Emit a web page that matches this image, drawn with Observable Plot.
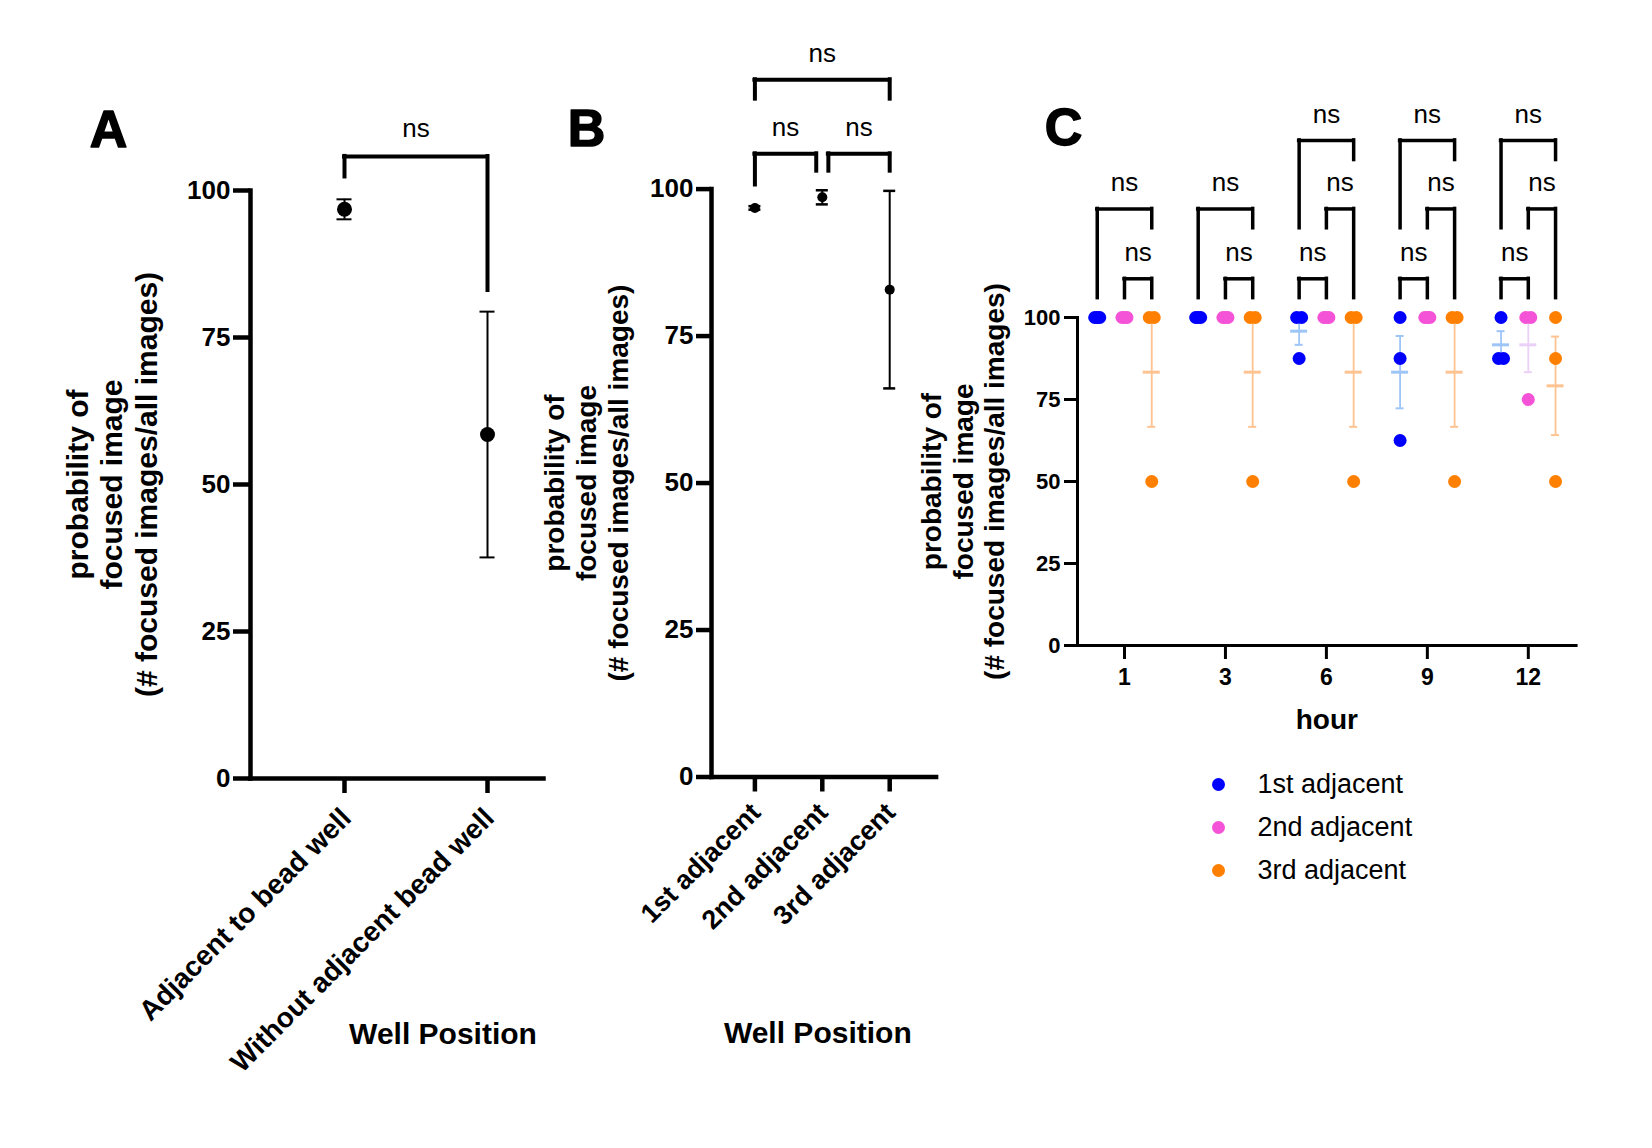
<!DOCTYPE html>
<html><head><meta charset="utf-8">
<script src="https://cdn.jsdelivr.net/npm/d3@7"></script>
<script src="https://cdn.jsdelivr.net/npm/@observablehq/plot@0.6"></script>
<style>
html,body{margin:0;padding:0;background:#fff;}
#root{position:relative;width:1652px;height:1148px;background:#fff;overflow:hidden;}
#root svg{position:absolute;left:0;top:0;max-width:none;}
</style></head><body><div id="root"></div>
<script>
const FONT = '"Liberation Sans", Arial, Helvetica, sans-serif';
const W = 1652, H = 1148;

// ---------- shared ----------
const yTicks = [0, 25, 50, 75, 100];
const yTitle = "probability of\nfocused image\n(# focused images/all images)";
const xTitle = "Well Position";
const sigLabel = "ns";

// ---------- Panel A ----------
const catsA = ["Adjacent to bead well", "Without adjacent bead well"];
const meanA = [96.8, 58.5];
const semA = [1.7, 20.9];
// bracket: from category index a to b, horizontal level, leg bottoms (data units)
const bracketsA = [{a: 0, b: 1, level: 105.8, endA: 102.3, endB: 83.0}];

// ---------- Panel B ----------
const catsB = ["1st adjacent", "2nd adjacent", "3rd adjacent"];
const meanB = [96.8, 98.6, 82.9];
const semB = [0.3, 1.2, 16.8];
const bracketsB = [
  {a: 0, b: 0.91, level: 106.0, endA: 100.7, endB: 103.05},
  {a: 1.09, b: 2, level: 106.0, endA: 103.05, endB: 103.05},
  {a: 0, b: 2, level: 118.6, endA: 115.3, endB: 115.3}
];

// ---------- Panel C ----------
const hours = [1, 3, 6, 9, 12];
const seriesC = ["1st adjacent", "2nd adjacent", "3rd adjacent"];
const colorsC = ["#0000ff", "#f553d7", "#ff8000"];
const barColorsC = ["#9ec5f8", "#ebd0f7", "#ffc391"];
// replicate values per hour (index matches hours)
const adj1 = [[100, 100, 100], [100, 100, 100], [100, 100, 87.5], [100, 87.5, 62.5], [100, 87.5, 87.5]];
const adj2 = [[100, 100, 100], [100, 100, 100], [100, 100, 100], [100, 100, 100], [100, 100, 75]];
const adj3 = [[100, 100, 50], [100, 100, 50], [100, 100, 50], [100, 100, 50], [100, 87.5, 50]];
const dataC = [adj1, adj2, adj3];
const seriesOffset = [-0.27, 0, 0.27];
// significance brackets per hour: s1/s2 series indexes, level and leg bottoms
const bracketsShort = [
  {s1: 0, s2: 2, level: 133.1, end1: 105.9, end2: 127.2},
  {s1: 1, s2: 2, level: 111.8, end1: 105.9, end2: 105.9}
];
const bracketsLong = [
  {s1: 0, s2: 1, level: 111.8, end1: 105.9, end2: 105.9},
  {s1: 1, s2: 2, level: 133.1, end1: 127.2, end2: 105.9},
  {s1: 0, s2: 2, level: 154.0, end1: 127.2, end2: 148.0}
];
const bracketSets = [bracketsShort, bracketsShort, bracketsLong, bracketsLong, bracketsLong];

const root = document.getElementById("root");
const baseStyle = {fontFamily: FONT, background: "transparent", overflow: "visible", color: "black"};

function catPanel(cats, means, sems, brackets, o) {
  const table = cats.map((c, i) => ({i, cat: c, mean: means[i], lo: means[i] - sems[i], hi: means[i] + sems[i]}));
  const br = brackets.map(d => ({...d, mid: (d.a + d.b) / 2}));
  return Plot.plot({
    width: W, height: H,
    marginLeft: o.left, marginRight: W - o.right, marginTop: o.top, marginBottom: H - o.bottom,
    x: {domain: [0, cats.length - 1], range: o.xRange},
    y: {domain: [0, 100]},
    style: baseStyle,
    marks: [
      Plot.frame({anchor: "left", strokeWidth: 4.5}),
      Plot.frame({anchor: "bottom", strokeWidth: 4.5}),
      Plot.axisY({ticks: yTicks, tickSize: o.yTick, tickPadding: 3, fontSize: 26, fontWeight: "bold", strokeWidth: 4.5, label: null}),
      Plot.axisX({ticks: d3.range(cats.length), tickFormat: () => "", tickSize: 15, strokeWidth: 4.5, label: null}),
      Plot.text(table, {x: "i", text: "cat", frameAnchor: "bottom", rotate: -45, textAnchor: "end", lineAnchor: "middle",
        dx: o.labDx, dy: o.labDy, fontSize: o.labSize, fontWeight: "bold"}),
      // error bars
      Plot.ruleX(table, {x: "i", y1: "lo", y2: "hi", strokeWidth: 2}),
      Plot.ruleY(table, {x1: "i", x2: "i", y: "lo", insetLeft: -o.cap, insetRight: -o.cap, strokeWidth: o.capW}),
      Plot.ruleY(table, {x1: "i", x2: "i", y: "hi", insetLeft: -o.cap, insetRight: -o.cap, strokeWidth: o.capW}),
      Plot.dot(table, {x: "i", y: "mean", r: o.r, fill: "black"}),
      // brackets
      Plot.ruleY(br, {x1: "a", x2: "b", y: "level", strokeWidth: 4, strokeLinecap: "square"}),
      Plot.ruleX(br, {x: "a", y1: "endA", y2: "level", strokeWidth: 4, strokeLinecap: "square"}),
      Plot.ruleX(br, {x: "b", y1: "endB", y2: "level", strokeWidth: 4, strokeLinecap: "square"}),
      Plot.text(br, {x: "mid", y: "level", text: () => sigLabel, dy: o.nsDy, fontSize: 26, lineAnchor: "middle"}),
      // titles
      Plot.text([yTitle], {frameAnchor: "left", dx: o.titleDx, rotate: -90, fontSize: o.titleSize, fontWeight: "bold",
        lineHeight: 1.14, textAnchor: "middle", lineAnchor: "middle"}),
      Plot.text([xTitle], {frameAnchor: "bottom", dx: o.xtDx, dy: 256, fontSize: 30, fontWeight: "bold", lineAnchor: "middle"}),
      Plot.text([o.letter], {frameAnchor: "top-left", dx: o.letDx, dy: o.letDy, fontSize: 52, fontWeight: 900,
        textAnchor: "middle", lineAnchor: "middle", fill: "black", stroke: "black", strokeWidth: 1.5})
    ]
  });
}

root.appendChild(catPanel(catsA, meanA, semA, bracketsA, {
  left: 250, right: 543, top: 190, bottom: 778, xRange: [344, 487], yTick: 17,
  labDx: 2, labDy: 35, labSize: 28, cap: 7.5, capW: 2, r: 7.5, titleDx: -139, titleSize: 30, nsDy: -28,
  xtDx: 46, letter: "A", letDx: -142, letDy: -60
}));

root.appendChild(catPanel(catsB, meanB, semB, bracketsB, {
  left: 711, right: 935.6, top: 188.6, bottom: 776.5, xRange: [754.4, 889.2], yTick: 15,
  labDx: 1, labDy: 31, labSize: 27, cap: 6, capW: 2.5, r: 5, titleDx: -126, titleSize: 28, nsDy: -26,
  xtDx: -6, letter: "B", letDx: -125, letDy: -60
}));

// ---------- Panel C ----------
const pxPerUnit = 100.95, spreadPx = 5;
const rowsC = [], statsC = [];
hours.forEach((h, hi) => seriesC.forEach((s, si) => {
  const vals = dataC[si][hi];
  const counts = d3.rollup(vals, v => v.length, v => v);
  const seen = new Map();
  vals.forEach(v => {
    const k = counts.get(v), j = seen.get(v) || 0;
    seen.set(v, j + 1);
    const off = k > 1 ? (j / (k - 1) - 0.5) * spreadPx / pxPerUnit : 0;
    rowsC.push({si, value: v, x: hi + seriesOffset[si] + off});
  });
  const m = d3.mean(vals), se = d3.deviation(vals) / Math.sqrt(vals.length);
  statsC.push({si, x: hi + seriesOffset[si], mean: m, lo: m - se, hi: m + se});
}));
const brC = [];
bracketSets.forEach((set, hi) => set.forEach(b => {
  const xa = hi + seriesOffset[b.s1], xb = hi + seriesOffset[b.s2];
  brC.push({xa, xb, mid: (xa + xb) / 2, level: b.level, end1: b.end1, end2: b.end2});
}));

const cMarks = [
  Plot.frame({anchor: "left", strokeWidth: 3}),
  Plot.frame({anchor: "bottom", strokeWidth: 3}),
  Plot.axisY({ticks: yTicks, tickSize: 13, tickPadding: 4, fontSize: 22, fontWeight: "bold", strokeWidth: 3, label: null}),
  Plot.axisX({ticks: d3.range(hours.length), tickFormat: i => String(hours[i]), tickSize: 14, tickPadding: 9,
    fontSize: 23, fontWeight: "bold", strokeWidth: 3, label: null}),
  Plot.text(["hour"], {frameAnchor: "bottom", dy: 75, fontSize: 28, fontWeight: "bold", lineAnchor: "middle"})
];
seriesC.forEach((s, si) => {
  const st = statsC.filter(d => d.si === si);
  const col = barColorsC[si];
  cMarks.push(
    Plot.ruleX(st, {x: "x", y1: "lo", y2: "hi", stroke: col, strokeWidth: 1.8}),
    Plot.ruleY(st, {x1: "x", x2: "x", y: "lo", insetLeft: -4, insetRight: -4, stroke: col, strokeWidth: 2}),
    Plot.ruleY(st, {x1: "x", x2: "x", y: "hi", insetLeft: -4, insetRight: -4, stroke: col, strokeWidth: 2}),
    Plot.ruleY(st, {x1: "x", x2: "x", y: "mean", insetLeft: -8.5, insetRight: -8.5, stroke: col, strokeWidth: 3})
  );
});
seriesC.forEach((s, si) => {
  cMarks.push(Plot.dot(rowsC.filter(d => d.si === si), {x: "x", y: "value", r: 6.5, fill: colorsC[si]}));
});
cMarks.push(
  Plot.ruleY(brC, {x1: "xa", x2: "xb", y: "level", strokeWidth: 3.5, strokeLinecap: "square"}),
  Plot.ruleX(brC, {x: "xa", y1: "end1", y2: "level", strokeWidth: 3.5, strokeLinecap: "square"}),
  Plot.ruleX(brC, {x: "xb", y1: "end2", y2: "level", strokeWidth: 3.5, strokeLinecap: "square"}),
  Plot.text(brC, {x: "mid", y: "level", text: () => sigLabel, dy: -26, fontSize: 26, lineAnchor: "middle"}),
  Plot.text([yTitle], {frameAnchor: "left", dx: -115, rotate: -90, fontSize: 28, fontWeight: "bold",
    lineHeight: 1.13, textAnchor: "middle", lineAnchor: "middle"}),
  Plot.text(["C"], {frameAnchor: "top-left", dx: -14, dy: -189, fontSize: 52, fontWeight: 900,
    textAnchor: "middle", lineAnchor: "middle", fill: "black", stroke: "black", strokeWidth: 1.5})
);

root.appendChild(Plot.plot({
  width: W, height: H,
  marginLeft: 1077, marginRight: W - 1575.6, marginTop: 317, marginBottom: H - 645,
  x: {domain: [0, hours.length - 1], range: [1124, 1527.8]},
  y: {domain: [0, 100]},
  style: baseStyle,
  marks: cMarks
}));

// ---------- Legend for C ----------
const legendMarks = [];
seriesC.forEach((s, si) => {
  legendMarks.push(Plot.dot([s], {y: d => d, r: 6.5, fill: colorsC[si], frameAnchor: "left"}));
});
legendMarks.push(Plot.text(seriesC, {y: d => d, text: d => d, frameAnchor: "left", dx: 39, textAnchor: "start",
  fontSize: 27, lineAnchor: "middle"}));
root.appendChild(Plot.plot({
  width: W, height: H,
  marginLeft: 1218, marginRight: 100, marginTop: 780, marginBottom: H - 872,
  y: {type: "point", domain: seriesC, range: [783.5, 869.5], padding: 0, axis: null},
  style: baseStyle,
  marks: legendMarks
}));
</script></body></html>
